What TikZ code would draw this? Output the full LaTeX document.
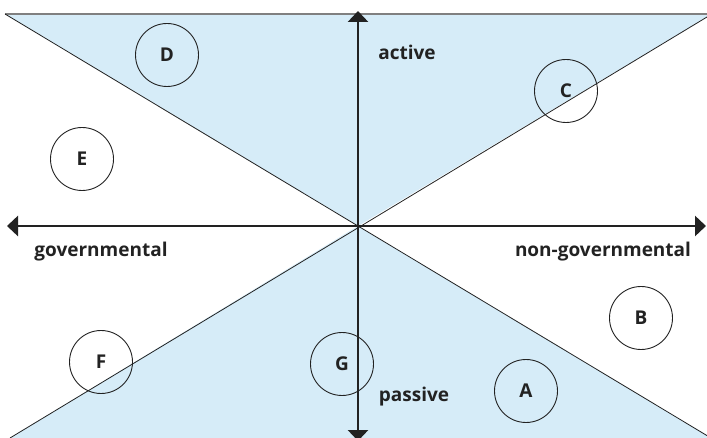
\documentclass[tikz,border=0pt]{standalone}
\usepackage{fontspec}
\setmainfont{Open Sans}
\usetikzlibrary{arrows.meta}
\definecolor{paleblue}{HTML}{D6ECF8}
\definecolor{axisgray}{HTML}{222222}
\tikzset{
  actor/.style={draw=axisgray,line width=0.9pt,circle,minimum size=63pt,inner sep=0pt,font=\bfseries\fontsize{19}{21}\selectfont,text=axisgray},
  axislabel/.style={font=\bfseries\fontsize{19}{21}\selectfont,text=axisgray},
  axis/.style={line width=2.8pt,draw=axisgray,-{Triangle[width=20pt,length=11pt]}}
}
\begin{document}
\begin{tikzpicture}[x=1pt,y=-1pt]
\useasboundingbox (0,0) rectangle (707,438);
\coordinate (O) at (358,226);
\coordinate (tl) at (5,14);
\coordinate (tr) at (707,17);
\coordinate (bl) at (10,438);
\coordinate (br) at (707,435.6);
% shaded wedges
\fill[paleblue] (tl) -- (707,14) -- (tr) -- (O) -- cycle;
\fill[paleblue] (bl) -- (O) -- (br) -- (707,438) -- cycle;
\draw[line width=1.4pt,gray] (tl) -- (707,14);
\draw[line width=0.8pt,axisgray] (tl) -- (br);
\draw[line width=0.8pt,axisgray] (tr) -- (bl);
% axes
\coordinate (up) at (358,11);
\coordinate (down) at (358,441);
\coordinate (left) at (7,226);
\coordinate (right) at (706,226);
\draw[axis] (O) -- (up);
\draw[axis] (O) -- (down);
\draw[axis] (O) -- (left);
\draw[axis] (O) -- (right);
\node[axislabel] (act) at (407,52) {active};
\node[axislabel] (pas) at (414,397) {passive};
\node[axislabel] (gov) at (101,252) {governmental};
\node[axislabel] (ngov) at (603,252) {non-governmental};
% actors
\node[actor] (D) at (167,55) {D};
\node[actor] (C) at (566,91) {C};
\node[actor] (E) at (82,159) {E};
\node[actor] (B) at (641,318) {B};
\node[actor] (F) at (101,362) {F};
\node[actor] (G) at (342,364) {G};
\node[actor] (A) at (526,391) {A};
\end{tikzpicture}
\end{document}
